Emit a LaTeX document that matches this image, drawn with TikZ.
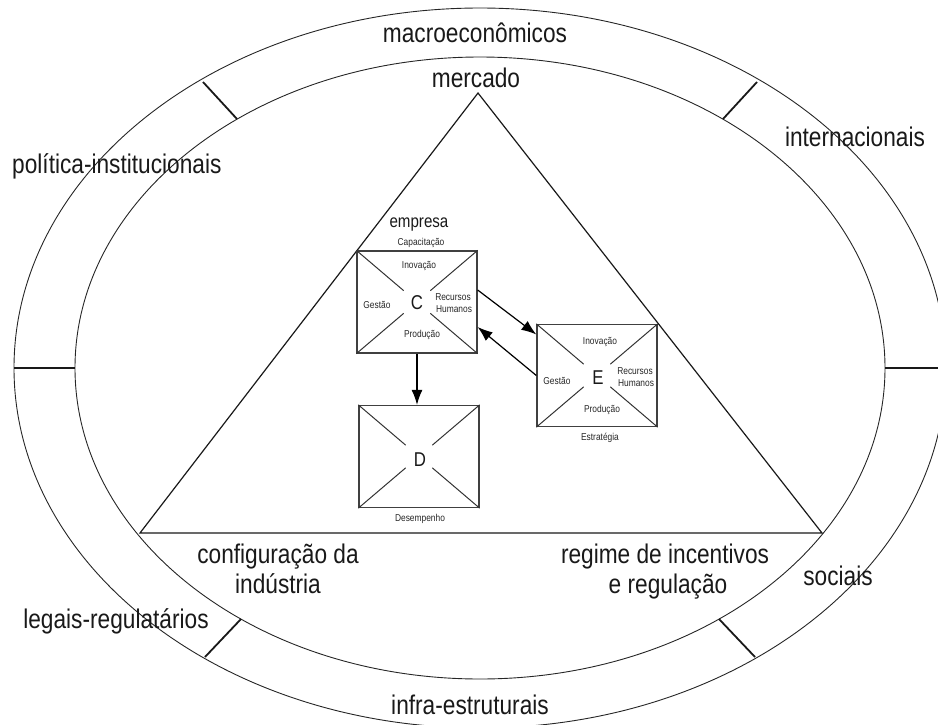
\documentclass[tikz,border=0pt]{standalone}
\usepackage{fontspec}
\setmainfont{Liberation Sans}[FakeStretch=0.84]
\usetikzlibrary{calc,arrows.meta}
\begin{document}
\begin{tikzpicture}[x=1pt,y=-1pt,
  lbl/.style={font=\fontsize{27}{30}\selectfont, inner sep=0pt, anchor=base, text=black!90},
  mid/.style={font=\fontsize{18}{20}\selectfont, inner sep=0pt, anchor=base, text=black!90},
  sm/.style={font=\fontsize{10}{12}\selectfont, inner sep=0pt, text=black!85},
  big/.style={font=\fontsize{20}{22}\selectfont, inner sep=0pt, text=black!90},
  boxnode/.style={draw=black!75, line width=1.3pt, minimum width=120pt, minimum height=102pt, inner sep=0pt},
  diag/.style={draw=black!80, line width=1pt},
  ring/.style={draw=black!85, line width=0.9pt},
  tick/.style={draw=black!90, line width=1.8pt},
  arr/.style={draw=black, line width=1.2pt, -{Latex[length=15pt,width=11pt]}}
]
\useasboundingbox (0,0) rectangle (938,724);
% ellipses
\draw[ring] (480,368) ellipse [x radius=466pt, y radius=360pt];
\draw[ring] (480,368) ellipse [x radius=405pt, y radius=311pt];
% ticks between ellipses
\draw[tick] (203,82) -- (237,119);
\draw[tick] (757,82) -- (723,119);
\draw[tick] (14,368) -- (75,368);
\draw[tick] (885,368) -- (946,368);
\draw[tick] (205,657) -- (241,619);
\draw[tick] (755,657) -- (719,619);
% triangle
\coordinate (apex) at (478,93);
\coordinate (bl) at (140,533);
\coordinate (br) at (822,533);
\draw[black!90, line width=1.2pt, line join=miter] (apex) -- (bl) -- (br) -- cycle;
% outer labels
\node[lbl] (tmacro) at (475,42) {macroeconômicos};
\node[lbl] (tmerc) at (476,87) {mercado};
\node[lbl, anchor=base west] (tpol) at (12,173) {política-institucionais};
\node[lbl] (tint) at (855,146) {internacionais};
\node[lbl] (tleg) at (116,628) {legais-regulatários};
\node[lbl] (tsoc) at (838,585) {sociais};
\node[lbl] (tinfra) at (470,714) {infra-estruturais};
\node[lbl] (tconf1) at (278,563) {configuração da};
\node[lbl] (tconf2) at (278,593) {indústria};
\node[lbl] (treg1) at (665,563) {regime de incentivos};
\node[lbl] (treg2) at (668,593) {e regulação};
% boxes
\node[boxnode] (C) at (417,302) {};
\node[boxnode] (E) at (597,375.5) {};
\node[boxnode] (D) at (419,456.5) {};
\foreach \b in {C,E,D}{
  \foreach \a in {north west,north east,south west,south east}{
    \draw[diag] (\b.\a) -- ($(\b.\a)!0.78!(\b.center)$);
  }
}
% labels around boxes
\node[mid] (temp) at (419,227) {empresa};
\node[sm, anchor=base] (tcap) at (421,245) {Capacitação};
\node[sm, anchor=base] (tdes) at (420,521) {Desempenho};
\node[sm, anchor=base] (test) at (600,440) {Estratégia};
% C contents
\node[sm] (cino) at (419,266) {Inovação};
\node[sm] (cges) at (377,305) {Gestão};
\node[big] (cC) at (417,303) {C};
\node[sm, anchor=base] (crec1) at (453,300) {Recursos};
\node[sm, anchor=base] (crec2) at (454,312) {Humanos};
\node[sm] (cpro) at (422,335) {Produção};
% E contents
\node[sm] (eino) at (600,342) {Inovação};
\node[sm] (eges) at (557,381) {Gestão};
\node[big] (eE) at (598,378) {E};
\node[sm, anchor=base] (erec1) at (635,374) {Recursos};
\node[sm, anchor=base] (erec2) at (636,386) {Humanos};
\node[sm] (epro) at (602,410) {Produção};
% D contents
\node[big] (dD) at (420,460) {D};
% arrows
\draw[arr] ($(C.east)+(0,-12)$) -- ($(E.west)+(0,-41)$);
\draw[arr] (E.west) -- ($(C.east)+(0,25)$);
\draw[arr] (C.south) -- (C.south |- D.north);
\end{tikzpicture}
\end{document}
